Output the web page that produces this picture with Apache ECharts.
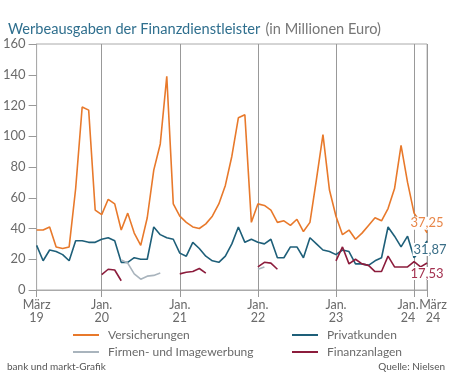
<!DOCTYPE html>
<html><head><meta charset="utf-8">
<script src="https://cdn.jsdelivr.net/npm/echarts@6/dist/echarts.min.js"></script>
<style>html,body{margin:0;padding:0;background:#fff}#c{width:450px;height:377px}</style>
</head><body><div id="c"></div>
<script>
const months = [
 'Mär 19','Apr 19','Mai 19','Jun 19','Jul 19','Aug 19','Sep 19','Okt 19','Nov 19','Dez 19',
 'Jan 20','Feb 20','Mär 20','Apr 20','Mai 20','Jun 20','Jul 20','Aug 20','Sep 20','Okt 20','Nov 20','Dez 20',
 'Jan 21','Feb 21','Mär 21','Apr 21','Mai 21','Jun 21','Jul 21','Aug 21','Sep 21','Okt 21','Nov 21','Dez 21',
 'Jan 22','Feb 22','Mär 22','Apr 22','Mai 22','Jun 22','Jul 22','Aug 22','Sep 22','Okt 22','Nov 22','Dez 22',
 'Jan 23','Feb 23','Mär 23','Apr 23','Mai 23','Jun 23','Jul 23','Aug 23','Sep 23','Okt 23','Nov 23','Dez 23',
 'Jan 24','Feb 24','Mär 24'];
const tickMonths = ['Mär 19','Jan 20','Jan 21','Jan 22','Jan 23','Jan 24','Mär 24'];
const tickLabels = [['März','19'],['Jan.','20'],['Jan.','21'],['Jan.','22'],['Jan.','23'],['Jan.','24'],['März','24']];
const yMin = 0, yMax = 160, yStep = 20;

const versicherungen = [39,39,41,28,27,28,66,119,117,52,
 49,59,56,39,50,37,29,47,78,95,139,56,
 48,44,41,40,43,48,56,68,87,112,114,44,
 56,55,52,44,45,42,46,38,44,72,101,65,
 48,36,39,33,37,42,47,45,53,66,94,70,
 50,44,37.25];
const privatkunden = [29,19,26,25,23,19,32,32,31,31,
 33,34,32,18,18,21,20,20,41,36,34,33,
 24,22,31,27,22,19,18,22,30,41,31,33,
 31,30,33,21,21,28,28,21,34,30,26,25,
 23,26,25,17,17,16,19,21,41,35,28,35,
 21,26,31.87];
const firmenImage = [null,null,null,null,null,null,null,null,null,null,
 null,null,null,19.5,17.5,10.5,7,9,9.5,11,null,null,
 null,null,null,null,null,null,null,null,null,null,null,null,
 13.5,15,null,null,null,null,null,null,null,null,null,null,
 null,null,null,null,null,null,null,null,null,null,null,null,
 null,null,null];
const finanzanlagen = [null,null,null,null,null,null,null,null,null,null,
 10,13.5,13,6,null,null,null,null,null,null,null,null,
 10.5,11.5,12,14,11,null,null,null,null,null,null,null,
 15,18,17.5,13.5,null,null,null,null,null,null,null,null,
 19,28,17,20,17,16,12,12,22,15,15,15,
 18.5,15,17.53];

const FONT = 'Lato';
const chart = echarts.init(document.getElementById('c'), null, {renderer:'canvas'});
const tickIndex = (idx, val) => { const k = tickMonths.indexOf(val); return k >= 0 ? k : tickMonths.indexOf(months[idx]); };
const isTick = (idx, val) => tickIndex(idx, val) >= 0;
const lastTick = tickMonths.length - 1;
const fmtVal = p => p.value.toFixed(2).replace('.', ',');

function withEndLabel(arr, lbl) {
  return arr.map((v, i) => (i === arr.length - 1) ? {value: v, label: Object.assign({show: true, formatter: fmtVal, fontFamily: FONT, fontSize: 13, backgroundColor: '#fff', padding: [0, 1]}, lbl)} : v);
}
function lineSeries(name, data, color) {
  return {name, type: 'line', data, symbol: 'circle', symbolSize: 0, showSymbol: true, showAllSymbol: true,
    lineStyle: {color, width: 1.6}, itemStyle: {color}, label: {show: false}, silent: true, animation: false};
}

const labelRich = {
  c: {fontFamily: FONT, fontSize: 12.5, color: '#6a6a6a', lineHeight: 13},
  l: {fontFamily: FONT, fontSize: 12.5, color: '#6a6a6a', lineHeight: 13, padding: [0, 12, 0, 0]},
  r: {fontFamily: FONT, fontSize: 12.5, color: '#6a6a6a', lineHeight: 13, padding: [0, 0, 0, 12]}
};
const fmtTick = (val) => {
  const k = tickMonths.indexOf(val);
  if (k < 0) return '';
  const st = (k === lastTick - 1) ? 'l' : (k === lastTick ? 'r' : 'c');
  return '{' + st + '|' + tickLabels[k][0] + '}\n{' + st + '|' + tickLabels[k][1] + '}';
};

chart.setOption({
  animation: false,
  backgroundColor: '#fff',
  title: {
    text: '{a|Werbeausgaben der Finanzdienstleister} {b|(in Millionen Euro)}',
    left: 3, top: 15,
    textStyle: {fontWeight: 'normal', rich: {
      a: {fontFamily: FONT, fontSize: 14.6, fontWeight: 'normal', color: '#2f6f8e'},
      b: {fontFamily: FONT, fontSize: 14.6, fontWeight: 'normal', color: '#777'}
    }}
  },
  grid: {left: 36, right: 22, top: 44, bottom: 87, show: true, borderColor: '#aaa', borderWidth: 1},
  xAxis: [{
    type: 'category', data: months, boundaryGap: false, position: 'bottom',
    axisLine: {lineStyle: {color: '#aaa', width: 1}},
    axisTick: {show: true, interval: isTick, length: 7, lineStyle: {color: '#999'}},
    splitLine: {show: true, interval: (idx, val) => idx > 0 && isTick(idx, val), lineStyle: {color: '#999', width: 1}},
    axisLabel: {
      interval: (idx, val) => { const k = tickIndex(idx, val); return k >= 0 && k < lastTick; },
      margin: 8, rich: labelRich, showMinLabel: true, showMaxLabel: true, hideOverlap: false, formatter: fmtTick
    }
  }, {
    type: 'category', data: months, boundaryGap: false, position: 'bottom', gridIndex: 0,
    axisLine: {show: false}, axisTick: {show: false}, splitLine: {show: false},
    axisLabel: {
      interval: (idx, val) => tickIndex(idx, val) === lastTick,
      margin: 8, rich: labelRich, showMinLabel: true, showMaxLabel: true, hideOverlap: false, formatter: fmtTick
    }
  }],
  yAxis: {
    type: 'value', min: yMin, max: yMax, interval: yStep,
    axisLine: {show: true, lineStyle: {color: '#aaa'}},
    axisTick: {show: true, length: 8, lineStyle: {color: '#999'}},
    splitLine: {show: false},
    axisLabel: {fontFamily: FONT, fontSize: 13, color: '#6a6a6a', margin: 11}
  },
  legend: [
    {left: 68, top: 323, orient: 'vertical', itemGap: 3, icon: 'rect', itemWidth: 26, itemHeight: 2,
     data: ['Versicherungen', 'Firmen- und Imagewerbung'],
     textStyle: {fontFamily: FONT, fontSize: 12, color: '#6a6a6a', lineHeight: 14, padding: [0, 0, 0, 4]}},
    {left: 287, top: 323, orient: 'vertical', itemGap: 3, icon: 'rect', itemWidth: 26, itemHeight: 2,
     data: ['Privatkunden', 'Finanzanlagen'],
     textStyle: {fontFamily: FONT, fontSize: 12, color: '#6a6a6a', lineHeight: 14, padding: [0, 0, 0, 4]}}
  ],
  graphic: [
    {type: 'text', left: 7, top: 362, style: {text: 'bank und markt-Grafik', font: '10px Lato', fill: '#555'}},
    {type: 'text', right: 5, top: 362, style: {text: 'Quelle: Nielsen', font: '10px Lato', fill: '#555'}}
  ],
  series: [
    lineSeries('Versicherungen', withEndLabel(versicherungen, {position: 'top', distance: 3, color: '#e8874a'}), '#e8792b'),
    lineSeries('Privatkunden', withEndLabel(privatkunden, {position: 'bottom', distance: 2, offset: [3, 0], color: '#3b6f88'}), '#1e5f79'),
    lineSeries('Firmen- und Imagewerbung', firmenImage, '#a9b4bd'),
    lineSeries('Finanzanlagen', withEndLabel(finanzanlagen, {position: 'bottom', distance: 4, color: '#a3304f'}), '#8c1c3c')
  ]
});
</script></body></html>
